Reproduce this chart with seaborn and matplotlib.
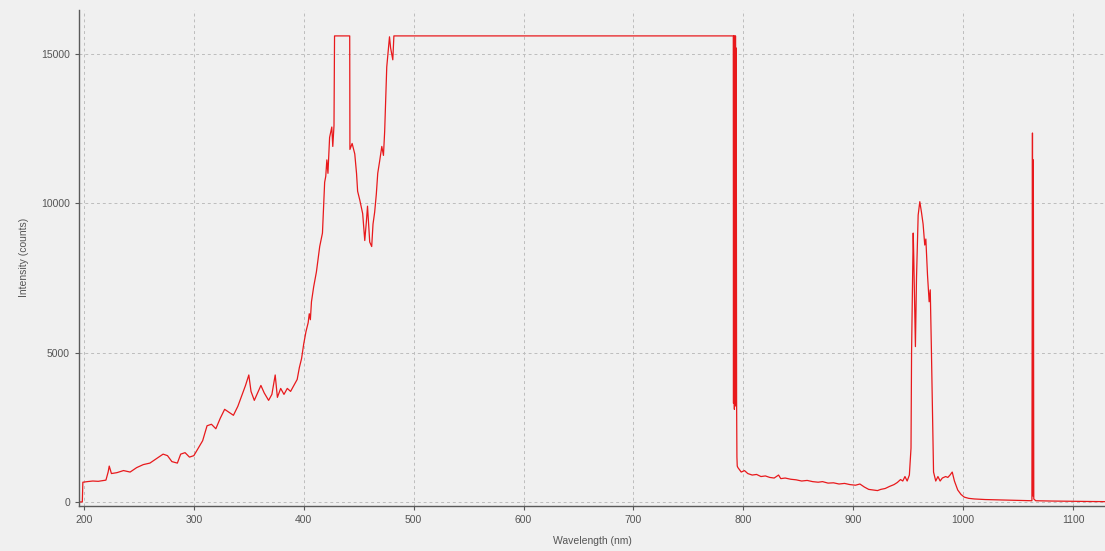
import pandas as pd
import matplotlib
matplotlib.use("Agg")
import matplotlib.pyplot as plt
import seaborn as sns

# spectrum (wavelength in nm, intensity in counts)
wavelength = [
    196, 198.5, 199, 203, 208, 213, 220, 222, 223, 225, 230, 236, 242, 248, 254, 260,
    266, 272, 276, 280, 285, 288, 292, 296, 300, 304, 308, 312, 316, 320, 324, 328,
    332, 336, 340, 344, 347, 350, 352, 355, 358, 361, 364, 368, 371, 374, 376, 379,
    382, 385, 388, 391, 394, 396, 398, 400, 402, 404, 405, 406, 407, 409, 411.5, 414.5,
    417, 419, 420, 421, 422, 423.5, 425.5, 426.4, 427.5, 428, 441.8, 442, 444, 446.4,
    448, 449, 451, 453.6, 455.5, 457, 458, 460, 461.8, 463, 464.5, 466, 467.3, 469,
    471, 472.5, 473.6, 475.5, 478, 479, 481, 482, 790.8,
    791.0, 791.2, 791.4, 791.6, 791.8, 792.0, 792.2, 792.4, 792.6, 792.8,
    793.0, 793.2, 793.4, 793.6, 793.8,
    794.1, 794.4, 795, 798, 801, 804, 808,
    812, 816, 820, 824, 828, 832, 834, 838, 843, 848, 853, 858, 863, 868, 872, 877,
    882, 887, 892, 897, 902, 906, 910, 914, 918, 922, 925, 929, 933, 937, 940, 943,
    945, 947, 949, 951, 952.5, 953, 954.5, 955, 956.5, 957.5, 959, 960.5, 962, 963.5,
    965, 966, 967.5, 969, 970, 971, 972, 973, 975, 977, 979, 981, 984, 986, 988, 990,
    992, 995, 998, 1001, 1005, 1010, 1020, 1030, 1040, 1050, 1060, 1062.5, 1063,
    1063.4, 1063.8, 1064.2, 1066, 1080, 1100, 1115, 1130,
]
intensity = [
    0, 0, 660, 680, 700, 690, 730, 1000, 1200, 950, 980, 1050, 1000, 1150, 1250, 1300,
    1450, 1600, 1550, 1350, 1300, 1600, 1650, 1500, 1550, 1800, 2050, 2550, 2600, 2450, 2800, 3100,
    3000, 2900, 3200, 3600, 3900, 4250, 3700, 3400, 3650, 3900, 3650, 3400, 3600, 4250, 3500, 3800,
    3600, 3800, 3700, 3900, 4100, 4500, 4800, 5300, 5700, 6000, 6300, 6100, 6700, 7200, 7700, 8550,
    9000, 10700, 10900, 11450, 11000, 12200, 12550, 11900, 12600, 15600, 15600, 11800, 12000, 11650,
    11000, 10400, 10100, 9650, 8750, 9400, 9900, 8700, 8550, 9300, 9700, 10300, 11000, 11400,
    11900, 11600, 12400, 14560, 15570, 15200, 14800, 15600, 15600,
    3300, 15600, 4000, 15500, 3100, 15600, 3600, 15400, 3300, 15600,
    3800, 15200, 3200, 11000, 3400,
    1500, 1200, 1150, 1000, 1050, 950, 900,
    920, 850, 870, 820, 800, 900, 780, 800, 760, 740, 700, 720, 680, 660, 680, 630,
    640, 600, 620, 580, 560, 600, 500, 420, 400, 380, 420, 450, 520, 580, 650, 750,
    700, 850, 700, 900, 1800, 5000, 9000, 8200, 5200, 7500, 9600, 10050, 9700, 9300,
    8600, 8800, 7600, 6700, 7100, 5200, 3000, 1000, 700, 850, 700, 800, 850, 820, 900, 1000,
    700, 400, 250, 160, 120, 100, 80, 70, 60, 50, 40, 40, 12350,
    200, 11450, 100, 40, 30, 20, 15, 10,
]

x_ticks = [200, 300, 400, 500, 600, 700, 800, 900, 1000, 1100]
y_ticks = [0, 5000, 10000, 15000]

df = pd.DataFrame({"Wavelength (nm)": wavelength, "Intensity (counts)": intensity})

sns.set_theme(style="ticks")
plt.rcParams["font.family"] = ["Liberation Sans", "DejaVu Sans"]

bg = "#f0f0f0"
fig = plt.figure(figsize=(11.05, 5.51), dpi=100, facecolor=bg)
ax = fig.add_axes([0.0715, 0.082, 0.9285, 0.9])
ax.set_facecolor(bg)

sns.lineplot(data=df, x="Wavelength (nm)", y="Intensity (counts)", ax=ax,
             estimator=None, sort=False, color="#e8191c", linewidth=0.9)

ax.set_xlim(195.5, 1129)
ax.set_ylim(-130, 16470)
ax.set_xticks(x_ticks)
ax.set_yticks(y_ticks)
ax.grid(True, color="#bdbdbd", linestyle=(0, (3, 3)), linewidth=0.7)
ax.set_axisbelow(True)

for side in ["top", "right"]:
    ax.spines[side].set_visible(False)
for side in ["left", "bottom"]:
    ax.spines[side].set_color("#5a5a5a")
    ax.spines[side].set_linewidth(1.0)

ax.tick_params(axis="both", labelsize=7.5, colors="#5a5a5a", labelcolor="#555555",
               length=3, width=0.8)
ax.set_xlabel("Wavelength (nm)", fontsize=7.5, color="#555555", labelpad=8)
ax.set_ylabel("Intensity (counts)", fontsize=7.5, color="#555555", labelpad=9)

fig.savefig("out.png", dpi=100, facecolor=bg)
